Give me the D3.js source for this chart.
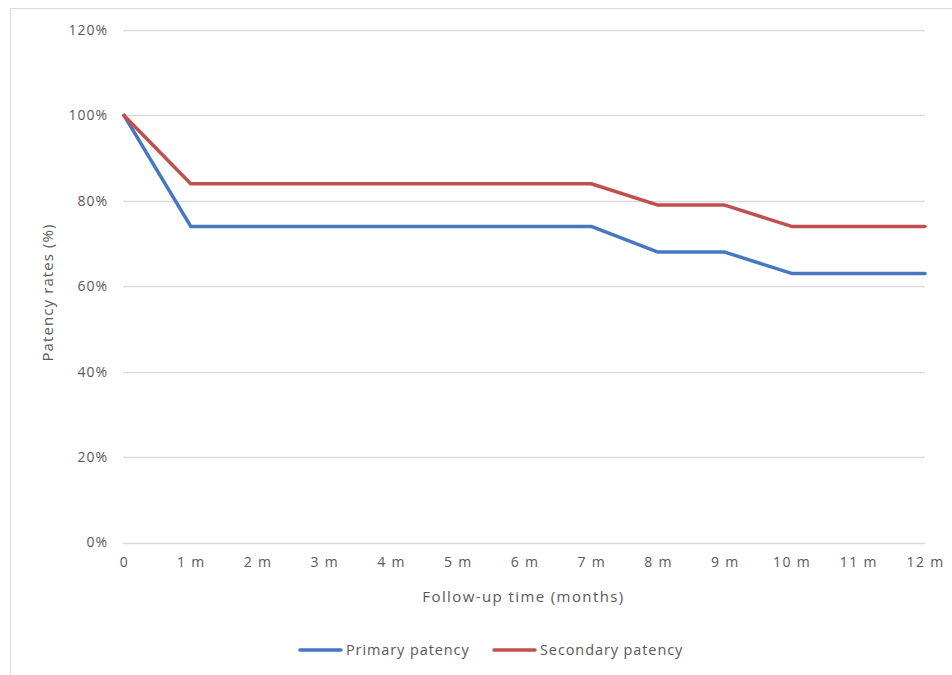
<!DOCTYPE html>
<html>
<head>
<meta charset="utf-8">
<script src="https://cdn.jsdelivr.net/npm/d3@7"></script>
<style>
  body { margin: 0; background: #fff; }
  svg { display: block; font-family: "Open Sans", "Liberation Sans", sans-serif; }
</style>
</head>
<body>
<div id="chart"></div>
<script>
const months = ["0", "1 m", "2 m", "3 m", "4 m", "5 m", "6 m", "7 m", "8 m", "9 m", "10 m", "11 m", "12 m"];
const primary = [100, 74, 74, 74, 74, 74, 74, 74, 68, 68, 63, 63, 63];
const secondary = [100, 84, 84, 84, 84, 84, 84, 84, 79, 79, 74, 74, 74];
const yTicks = [0, 20, 40, 60, 80, 100, 120];

const seriesList = [
  { name: "Primary patency", values: primary, color: "#4677c0" },
  { name: "Secondary patency", values: secondary, color: "#c0504d" }
];

const width = 952, height = 675;
const margin = { top: 30, right: 27, bottom: 132, left: 124 };

const svg = d3.select("#chart").append("svg")
  .attr("width", width)
  .attr("height", height);

// chart frame (cut off at right and bottom like the source)
svg.append("rect")
  .attr("x", 10.5).attr("y", 8.5)
  .attr("width", 960).attr("height", 700)
  .attr("fill", "none")
  .attr("stroke", "#d9d9d9");

const x = d3.scalePoint()
  .domain(months)
  .range([margin.left, width - margin.right]);

const y = d3.scaleLinear()
  .domain([0, 120])
  .range([height - margin.bottom - 0.5, margin.top]);

// gridlines
svg.append("g")
  .selectAll("line")
  .data(yTicks)
  .join("line")
  .attr("x1", margin.left - 1)
  .attr("x2", width - margin.right)
  .attr("y1", (d) => Math.round(y(d)) + 0.5)
  .attr("y2", (d) => Math.round(y(d)) + 0.5)
  .attr("stroke", "#d9d9d9")
  .attr("stroke-width", 1.3);

// y axis labels
const yAxis = svg.append("g")
  .attr("transform", `translate(${margin.left - 16},0)`)
  .call(d3.axisLeft(y).tickValues(yTicks).tickFormat((d) => d + "%").tickSize(0).tickPadding(0));
yAxis.select(".domain").remove();
yAxis.selectAll("text")
  .attr("font-size", 14)
  .attr("letter-spacing", 1)
  .attr("font-family", "'Open Sans', 'Liberation Sans', sans-serif")
  .attr("fill", "#595959");

// x axis labels
const xAxis = svg.append("g")
  .attr("transform", `translate(0,${height - margin.bottom + 14})`)
  .call(d3.axisBottom(x).tickSize(0).tickPadding(0));
xAxis.select(".domain").remove();
xAxis.selectAll("text")
  .attr("font-size", 14)
  .attr("letter-spacing", 1.3)
  .attr("font-family", "'Open Sans', 'Liberation Sans', sans-serif")
  .attr("fill", "#595959");

// axis titles
svg.append("text")
  .attr("x", (margin.left + width - margin.right) / 2 - 1)
  .attr("y", 602)
  .attr("text-anchor", "middle")
  .attr("font-size", 15)
  .attr("letter-spacing", 1.4)
  .attr("fill", "#595959")
  .text("Follow-up time (months)");

svg.append("text")
  .attr("transform", `translate(53,${(margin.top + height - margin.bottom) / 2 + 6}) rotate(-90)`)
  .attr("text-anchor", "middle")
  .attr("font-size", 15)
  .attr("letter-spacing", 1.1)
  .attr("fill", "#595959")
  .text("Patency rates (%)");

// lines
const line = d3.line()
  .x((d, i) => x(months[i]))
  .y((d) => y(d));

svg.append("g")
  .selectAll("path")
  .data(seriesList)
  .join("path")
  .attr("d", (s) => line(s.values))
  .attr("fill", "none")
  .attr("stroke", (s) => s.color)
  .attr("stroke-width", 3.5)
  .attr("stroke-linejoin", "round")
  .attr("stroke-linecap", "round");

// legend
const legendX = [300, 494];
const legend = svg.append("g")
  .selectAll("g")
  .data(seriesList)
  .join("g")
  .attr("transform", (s, i) => `translate(${legendX[i]},650)`);
legend.append("line")
  .attr("x1", 0).attr("x2", 41)
  .attr("stroke", (s) => s.color)
  .attr("stroke-width", 3.5)
  .attr("stroke-linecap", "round");
legend.append("text")
  .attr("x", 46)
  .attr("dy", "0.35em")
  .attr("font-size", 14.5)
  .attr("letter-spacing", 0.9)
  .attr("fill", "#595959")
  .text((s) => s.name);
</script>
</body>
</html>
